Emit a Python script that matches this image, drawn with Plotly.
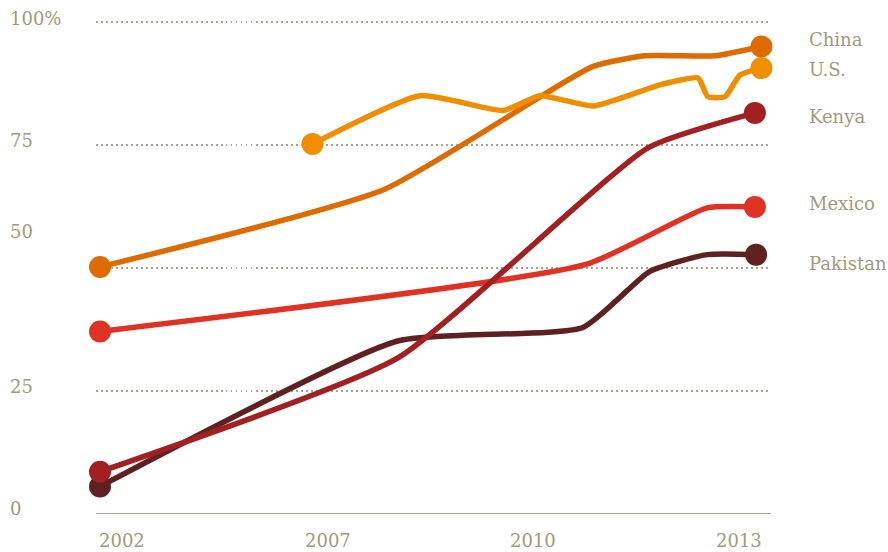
import plotly.graph_objects as go

# ---- data (x = survey date as decimal year, y = percent) ----
countries = ["China", "U.S.", "Kenya", "Mexico", "Pakistan"]

china_x = [2002.00, 2006.77, 2010.25, 2011.13, 2012.30, 2013.08]
china_y = [50.2, 66.0, 90.9, 93.1, 93.1, 95.0]

us_x = [2005.56, 2007.36, 2008.76, 2009.37, 2010.26, 2011.38, 2012.02, 2012.18, 2012.47, 2012.72, 2013.08]
us_y = [75.2, 85.0, 82.0, 85.0, 82.9, 87.2, 88.6, 84.8, 84.8, 89.2, 90.6]

kenya_x = [2002.00, 2006.99, 2011.18, 2012.97]
kenya_y = [8.6, 31.7, 74.4, 81.5]

mexico_x = [2002.00, 2010.14, 2012.17, 2012.97]
mexico_y = [37.1, 50.7, 62.2, 62.4]

pakistan_x = [2002.00, 2006.97, 2010.09, 2011.21, 2012.17, 2012.99]
pakistan_y = [5.6, 35.1, 37.9, 49.3, 52.7, 52.7]

y_tick_values = [0, 25, 50, 75, 100]
y_tick_labels = ["0", "25", "50", "75", "100%"]
x_tick_labels = ["2002", "2007", "2010", "2013"]

# ---- styling ----
colors = {
    "China": "#dd6b00",
    "U.S.": "#ee8e00",
    "Kenya": "#a21f22",
    "Mexico": "#e03222",
    "Pakistan": "#5e2020",
}
text_color = "#9f9a80"
grid_color = "#a9a48c"
FONT = "DejaVu Serif"

series = {
    "China": (china_x, china_y),
    "U.S.": (us_x, us_y),
    "Kenya": (kenya_x, kenya_y),
    "Mexico": (mexico_x, mexico_y),
    "Pakistan": (pakistan_x, pakistan_y),
}
# vertical nudges (in y units) of the right-hand labels
label_offset = {"China": 1.5, "U.S.": -0.3, "Kenya": -0.8, "Mexico": 0.6, "Pakistan": -1.8}
# drawn order (bottom to top)
draw_order = ["Mexico", "Pakistan", "Kenya", "China", "U.S."]

fig = go.Figure()
for name in draw_order:
    xs, ys = series[name]
    fig.add_trace(go.Scatter(
        x=xs, y=ys, mode="lines",
        line=dict(color=colors[name], width=5.5, shape="spline", smoothing=0.5),
        hoverinfo="skip", showlegend=False, cliponaxis=False,
    ))
    fig.add_trace(go.Scatter(
        x=[xs[0], xs[-1]], y=[ys[0], ys[-1]], mode="markers",
        marker=dict(color=colors[name], size=22, line=dict(width=0)),
        showlegend=False, cliponaxis=False,
    ))

X0, X1 = 2001.933, 2013.240
fig.update_xaxes(range=[X0, X1], showgrid=False, zeroline=False, showticklabels=False,
                 showline=False, fixedrange=True)
fig.update_yaxes(range=[0, 102], tickvals=y_tick_values, showticklabels=False,
                 showgrid=True, gridcolor=grid_color, gridwidth=1.5, griddash="1.5px,3.5px",
                 zeroline=False, showline=False, fixedrange=True)

# solid baseline at 0
fig.add_shape(type="line", xref="paper", yref="y", x0=0, x1=1, y0=0, y1=0,
              line=dict(color=grid_color, width=2), layer="above")

annotations = []
# y labels (the "50" label sits higher in the original)
y_label_pos = {0: 1.2, 25: 26.0, 50: 57.4, 75: 75.8, 100: 100.7}
for v, t in zip(y_tick_values, y_tick_labels):
    annotations.append(dict(x=-0.1304, xref="paper", y=y_label_pos[v], yref="y",
                            text=t, showarrow=False, xanchor="left", yanchor="middle",
                            font=dict(family=FONT, size=18, color=text_color)))
# x labels, evenly spaced left edges along the bottom
for i, t in enumerate(x_tick_labels):
    annotations.append(dict(x=0.0015 + i * 0.3047, xref="paper", y=-0.052, yref="paper",
                            text=t, showarrow=False, xanchor="left", yanchor="middle",
                            font=dict(family=FONT, size=18, color=text_color)))
# country labels at the right
for name in countries:
    xs, ys = series[name]
    annotations.append(dict(x=1.054, xref="paper", y=ys[-1] + label_offset[name], yref="y",
                            text=name, showarrow=False, xanchor="left", yanchor="middle",
                            font=dict(family=FONT, size=18, color=text_color)))

fig.update_layout(
    width=888, height=552,
    margin=dict(l=96, r=117, t=12, b=38),
    plot_bgcolor="white", paper_bgcolor="white",
    annotations=annotations,
    hovermode=False,
)

fig.write_html("out.html", config={"displayModeBar": False},
               post_script="document.body.style.margin='0';document.body.style.overflow='hidden';")
